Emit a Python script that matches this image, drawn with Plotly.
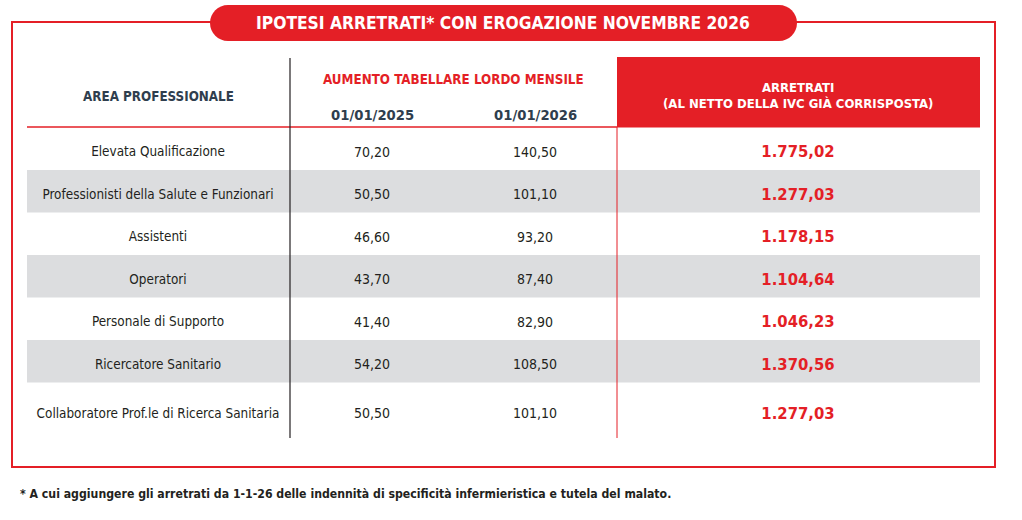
import plotly.graph_objects as go

# ---- data ----
aree = [
    "Elevata Qualificazione",
    "Professionisti della Salute e Funzionari",
    "Assistenti",
    "Operatori",
    "Personale di Supporto",
    "Ricercatore Sanitario",
    "Collaboratore Prof.le di Ricerca Sanitaria",
]
aumento_2025 = [70.20, 50.50, 46.60, 43.70, 41.40, 54.20, 50.50]
aumento_2026 = [140.50, 101.10, 93.20, 87.40, 82.90, 108.50, 101.10]
arretrati = [1775.02, 1277.03, 1178.15, 1104.64, 1046.23, 1370.56, 1277.03]
date_labels = ["01/01/2025", "01/01/2026"]

title = "IPOTESI ARRETRATI* CON EROGAZIONE NOVEMBRE 2026"
footnote = "* A cui aggiungere gli arretrati da 1-1-26 delle indennità di specificità infermieristica e tutela del malato."


def it_fmt(v):
    s = f"{v:,.2f}"
    return s.replace(",", "X").replace(".", ",").replace("X", ".")


# ---- styling / layout ----
RED = "#e41f26"
GREY = "#dcdddf"
DARK = "#231f20"
SLATE = "#2f3e4e"
NARROW = "Liberation Sans Narrow, DejaVu Sans Condensed, Arial Narrow, sans-serif"

W, H = 1022, 520
row_top = 127.5
row_h = 42.5
col_label = 158
col_a = 372
col_b = 535
col_arr = 798


def row_center(i):
    return row_top + 25.5 + row_h * i + (6.5 if i == len(aree) - 1 else 0)


ys = [row_center(i) for i in range(len(aree))]

fig = go.Figure()

shapes = []
# grey bands
for i in range(len(aree)):
    if i % 2 == 1:
        shapes.append(dict(type="rect", x0=27, x1=980, y0=row_top + row_h * i,
                           y1=row_top + row_h * (i + 1), fillcolor=GREY,
                           line=dict(width=0), layer="below"))
# outer box
shapes.append(dict(type="rect", x0=12, x1=995, y0=22, y1=467,
                   line=dict(color=RED, width=2), fillcolor="rgba(0,0,0,0)"))
# title pill (rounded)
x0, x1, y0, y1, r = 210, 797, 5, 41, 18
k = 0.5523 * r
pill = (f"M {x0+r},{y0} L {x1-r},{y0} "
        f"C {x1-r+k},{y0} {x1},{y0+r-k} {x1},{y0+r} "
        f"C {x1},{y1-r+k} {x1-r+k},{y1} {x1-r},{y1} "
        f"L {x0+r},{y1} "
        f"C {x0+r-k},{y1} {x0},{y1-r+k} {x0},{y1-r} "
        f"C {x0},{y0+r-k} {x0+r-k},{y0} {x0+r},{y0} Z")
shapes.append(dict(type="path", path=pill, fillcolor=RED, line=dict(width=0)))
# red header box
shapes.append(dict(type="rect", x0=617, x1=980, y0=57, y1=127.5,
                   fillcolor=RED, line=dict(width=0)))
# header bottom line
shapes.append(dict(type="line", x0=27, x1=617, y0=127, y1=127,
                   line=dict(color=RED, width=1.5)))
# vertical black line
shapes.append(dict(type="line", x0=290, x1=290, y0=58, y1=438,
                   line=dict(color=DARK, width=1.2)))
# vertical red line
shapes.append(dict(type="line", x0=617, x1=617, y0=127, y1=438,
                   line=dict(color=RED, width=1)))

annotations = [
    dict(x=503, y=23, text=f"<b>{title}</b>",
         font=dict(family=NARROW, size=17.3, color="white")),
    dict(x=158, y=96, text="<b>AREA PROFESSIONALE</b>",
         font=dict(family=NARROW, size=13.3, color=SLATE)),
    dict(x=453, y=79, text="<b>AUMENTO TABELLARE LORDO MENSILE</b>",
         font=dict(family=NARROW, size=13.3, color=RED)),
    dict(x=col_a, y=114, text=f"<b>{date_labels[0]}</b>",
         font=dict(family=NARROW, size=14.7, color=SLATE)),
    dict(x=col_b, y=114, text=f"<b>{date_labels[1]}</b>",
         font=dict(family=NARROW, size=14.7, color=SLATE)),
    dict(x=798, y=87, text="<b>ARRETRATI</b>",
         font=dict(family=NARROW, size=13, color="white")),
    dict(x=798, y=103, text="<b>(AL NETTO DELLA IVC GIÀ CORRISPOSTA)</b>",
         font=dict(family=NARROW, size=13, color="white")),
    dict(x=18, y=493.5, text=f"<b>{footnote}</b>", xanchor="left",
         font=dict(family=NARROW, size=12.2, color=DARK)),
]
for a in annotations:
    a.setdefault("xanchor", "center")
    a.update(xref="x", yref="y", yanchor="middle", showarrow=False)

fig.add_trace(go.Scatter(x=[col_label] * len(aree), y=ys, text=aree, mode="text",
                         textfont=dict(family=NARROW, size=13.4, color=DARK),
                         hoverinfo="skip"))
fig.add_trace(go.Scatter(x=[col_a] * len(aree), y=ys, text=[it_fmt(v) for v in aumento_2025],
                         mode="text", textfont=dict(family=NARROW, size=14, color=DARK),
                         hoverinfo="skip"))
fig.add_trace(go.Scatter(x=[col_b] * len(aree), y=ys, text=[it_fmt(v) for v in aumento_2026],
                         mode="text", textfont=dict(family=NARROW, size=14, color=DARK),
                         hoverinfo="skip"))
fig.add_trace(go.Scatter(x=[col_arr] * len(aree), y=ys,
                         text=[f"<b>{it_fmt(v)}</b>" for v in arretrati],
                         mode="text", textfont=dict(family=NARROW, size=16.5, color=RED),
                         hoverinfo="skip"))

fig.update_layout(
    width=W, height=H, autosize=False,
    margin=dict(l=0, r=0, t=0, b=0, pad=0),
    paper_bgcolor="white", plot_bgcolor="white",
    showlegend=False,
    xaxis=dict(range=[0, W], visible=False, fixedrange=True),
    yaxis=dict(range=[H, 0], visible=False, fixedrange=True),
    shapes=shapes, annotations=annotations,
)

fig.write_html("out.html", config={"displayModeBar": False},
               post_script="document.body.style.margin='0';")
